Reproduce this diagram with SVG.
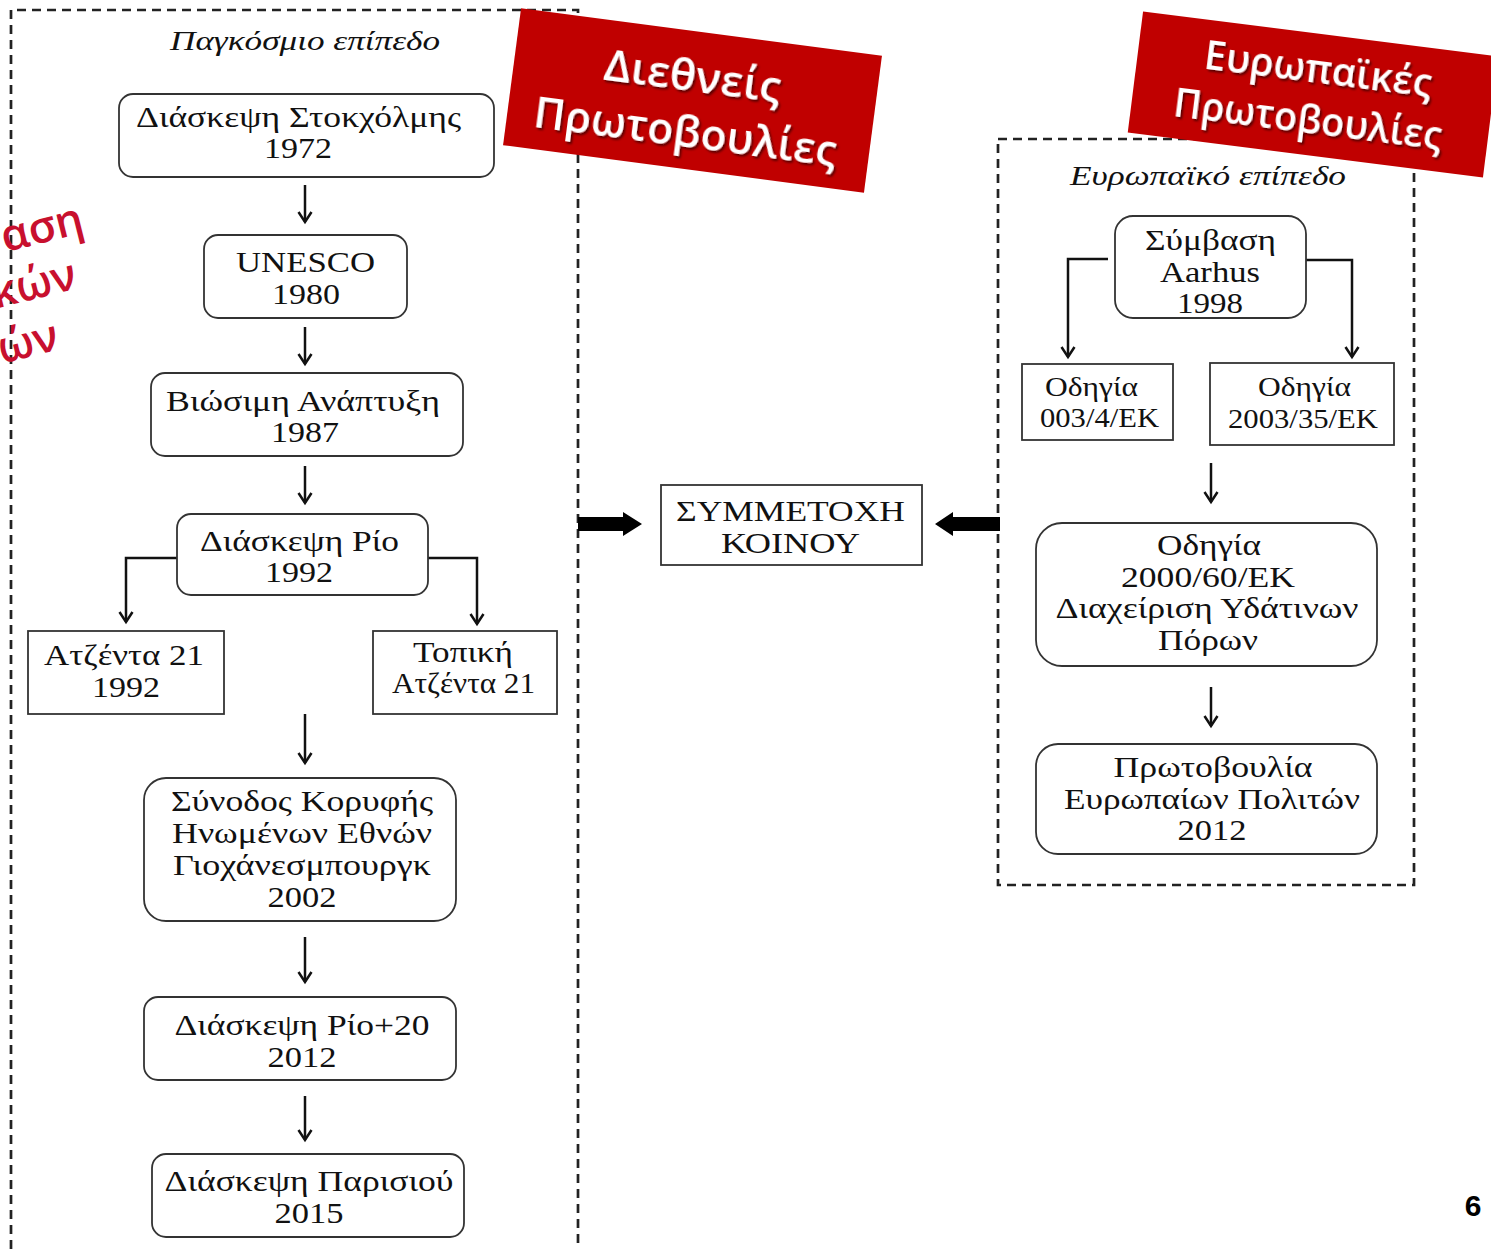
<svg xmlns="http://www.w3.org/2000/svg" width="1491" height="1249" viewBox="0 0 1491 1249">
<defs>
<style>
.bx{fill:#fff;stroke:#333;stroke-width:1.8}
.t{font-family:"Liberation Serif","Times New Roman",serif;font-size:29px;fill:#111;text-anchor:middle}
.ts{font-family:"Liberation Serif","Times New Roman",serif;font-size:27px;fill:#111;text-anchor:middle}
.ti{font-family:"Liberation Serif","Times New Roman",serif;font-size:27px;font-style:italic;fill:#111;text-anchor:middle}
.dash{fill:none;stroke:#222;stroke-width:2.7;stroke-dasharray:9 6}
.ar{fill:none;stroke:#111;stroke-width:2.5;marker-end:url(#v)}
.bn{fill:#C00000}
.bt{font-family:"Open Sans","Noto Sans",sans-serif;font-weight:600;fill:#fff;text-anchor:middle}
.rt{font-family:"Open Sans","Noto Sans",sans-serif;font-weight:600;font-size:44px;fill:#C8102E;text-anchor:end}
</style>
<marker id="v" markerUnits="userSpaceOnUse" markerWidth="16" markerHeight="16" viewBox="0 0 16 16" refX="13" refY="8" orient="auto">
<path d="M3,1.5 L13,8 L3,14.5" fill="none" stroke="#111" stroke-width="2.5"/>
</marker>
<filter id="sh" x="-10%" y="-10%" width="120%" height="130%">
<feDropShadow dx="2" dy="2" stdDeviation="1.2" flood-color="#000" flood-opacity="0.55"/>
</filter>
</defs>
<rect width="1491" height="1249" fill="#fff"/>

<g id="frames">
<path class="dash" d="M11,1249 V10 H578 V1249"/>
<rect class="dash" x="998" y="139" width="416" height="746"/>
</g>

<g id="titles">
<text class="ti" x="305" y="50" textLength="270" lengthAdjust="spacingAndGlyphs">Παγκόσμιο επίπεδο</text>
<text class="ti" x="1208" y="185" textLength="276" lengthAdjust="spacingAndGlyphs">Ευρωπαϊκό επίπεδο</text>
</g>

<g id="connectors">
<path class="ar" d="M305,185 V222"/>
<path class="ar" d="M305,327 V364"/>
<path class="ar" d="M305,466 V503"/>
<path class="ar" d="M177,558 H126 V622"/>
<path class="ar" d="M428,558 H477 V624"/>
<path class="ar" d="M305,714 V763"/>
<path class="ar" d="M305,937 V982"/>
<path class="ar" d="M305,1096 V1140"/>
<path class="ar" d="M1108,259 H1068 V357"/>
<path class="ar" d="M1306,260 H1352 V357"/>
<path class="ar" d="M1211,463 V502"/>
<path class="ar" d="M1211,687 V726"/>
<polygon fill="#000" points="578,517 623,517 623,512 642,524 623,536 623,531 578,531"/>
<polygon fill="#000" points="1000,517 953,517 953,512 935,524 953,536 953,531 1000,531"/>
</g>

<g id="n1"><rect class="bx" x="119" y="94" width="375" height="83" rx="14"/>
<text class="t" x="298.5" y="127" textLength="325" lengthAdjust="spacingAndGlyphs">Διάσκεψη Στοκχόλμης</text>
<text class="t" x="298" y="158" textLength="68" lengthAdjust="spacingAndGlyphs">1972</text></g>

<g id="n2"><rect class="bx" x="204" y="235" width="203" height="83" rx="14"/>
<text class="t" x="305.5" y="272" textLength="139" lengthAdjust="spacingAndGlyphs">UNESCO</text>
<text class="t" x="306" y="304" textLength="68" lengthAdjust="spacingAndGlyphs">1980</text></g>

<g id="n3"><rect class="bx" x="151" y="373" width="312" height="83" rx="14"/>
<text class="t" x="303" y="411" textLength="274" lengthAdjust="spacingAndGlyphs">Βιώσιμη Ανάπτυξη</text>
<text class="t" x="305" y="442" textLength="68" lengthAdjust="spacingAndGlyphs">1987</text></g>

<g id="n4"><rect class="bx" x="177" y="514" width="251" height="81" rx="14"/>
<text class="t" x="299.5" y="551" textLength="199" lengthAdjust="spacingAndGlyphs">Διάσκεψη Ρίο</text>
<text class="t" x="299" y="582" textLength="68" lengthAdjust="spacingAndGlyphs">1992</text></g>

<g id="n5"><rect class="bx" x="28" y="631" width="196" height="83"/>
<text class="t" x="124" y="665" textLength="160" lengthAdjust="spacingAndGlyphs">Ατζέντα 21</text>
<text class="t" x="126" y="697" textLength="68" lengthAdjust="spacingAndGlyphs">1992</text></g>

<g id="n6"><rect class="bx" x="373" y="631" width="184" height="83"/>
<text class="t" x="463" y="662" textLength="100" lengthAdjust="spacingAndGlyphs">Τοπική</text>
<text class="t" x="463.5" y="693" textLength="143" lengthAdjust="spacingAndGlyphs">Ατζέντα 21</text></g>

<g id="n7"><rect class="bx" x="144" y="778" width="312" height="143" rx="22"/>
<text class="t" x="302" y="811" textLength="262" lengthAdjust="spacingAndGlyphs">Σύνοδος Κορυφής</text>
<text class="t" x="302" y="843" textLength="260" lengthAdjust="spacingAndGlyphs">Ηνωμένων Εθνών</text>
<text class="t" x="302" y="875" textLength="258" lengthAdjust="spacingAndGlyphs">Γιοχάνεσμπουργκ</text>
<text class="t" x="302" y="907" textLength="69" lengthAdjust="spacingAndGlyphs">2002</text></g>

<g id="n8"><rect class="bx" x="144" y="997" width="312" height="83" rx="14"/>
<text class="t" x="302" y="1035" textLength="255" lengthAdjust="spacingAndGlyphs">Διάσκεψη Ρίο+20</text>
<text class="t" x="302" y="1067" textLength="69" lengthAdjust="spacingAndGlyphs">2012</text></g>

<g id="n9"><rect class="bx" x="152" y="1154" width="312" height="83" rx="14"/>
<text class="t" x="309" y="1191" textLength="289" lengthAdjust="spacingAndGlyphs">Διάσκεψη Παρισιού</text>
<text class="t" x="309" y="1223" textLength="69" lengthAdjust="spacingAndGlyphs">2015</text></g>

<g id="center"><rect class="bx" x="661" y="485" width="261" height="80"/>
<text class="t" x="790.5" y="521" textLength="229" lengthAdjust="spacingAndGlyphs">ΣΥΜΜΕΤΟΧΗ</text>
<text class="t" x="790.5" y="553" textLength="139" lengthAdjust="spacingAndGlyphs">ΚΟΙΝΟΥ</text></g>

<g id="e1"><rect class="bx" x="1115" y="216" width="191" height="102" rx="18"/>
<text class="t" x="1210.5" y="250" textLength="131" lengthAdjust="spacingAndGlyphs">Σύμβαση</text>
<text class="t" x="1210" y="282" textLength="100" lengthAdjust="spacingAndGlyphs">Aarhus</text>
<text class="t" x="1210" y="313" textLength="66" lengthAdjust="spacingAndGlyphs">1998</text></g>

<g id="e2"><rect class="bx" x="1022" y="364" width="151" height="76"/>
<text class="ts" x="1091.5" y="396" textLength="93" lengthAdjust="spacingAndGlyphs">Οδηγία</text>
<text class="ts" x="1099.5" y="427" textLength="119" lengthAdjust="spacingAndGlyphs">003/4/ΕΚ</text></g>

<g id="e3"><rect class="bx" x="1210" y="363" width="184" height="82"/>
<text class="ts" x="1304.5" y="396" textLength="93" lengthAdjust="spacingAndGlyphs">Οδηγία</text>
<text class="ts" x="1303" y="428" textLength="150" lengthAdjust="spacingAndGlyphs">2003/35/ΕΚ</text></g>

<g id="e4"><rect class="bx" x="1036" y="523" width="341" height="143" rx="26"/>
<text class="t" x="1209" y="555" textLength="104" lengthAdjust="spacingAndGlyphs">Οδηγία</text>
<text class="t" x="1208" y="587" textLength="174" lengthAdjust="spacingAndGlyphs">2000/60/ΕΚ</text>
<text class="t" x="1207" y="618" textLength="303" lengthAdjust="spacingAndGlyphs">Διαχείριση Υδάτινων</text>
<text class="t" x="1208" y="650" textLength="100" lengthAdjust="spacingAndGlyphs">Πόρων</text></g>

<g id="e5"><rect class="bx" x="1036" y="744" width="341" height="110" rx="22"/>
<text class="t" x="1213" y="777" textLength="199" lengthAdjust="spacingAndGlyphs">Πρωτοβουλία</text>
<text class="t" x="1212" y="809" textLength="296" lengthAdjust="spacingAndGlyphs">Ευρωπαίων Πολιτών</text>
<text class="t" x="1212" y="840" textLength="69" lengthAdjust="spacingAndGlyphs">2012</text></g>

<g id="banner1" transform="translate(692.5,100.5) rotate(7.5)">
<rect class="bn" x="-182" y="-69" width="364" height="138"/>
<text class="bt" x="-3" y="-9" font-size="44" filter="url(#sh)" textLength="178" lengthAdjust="spacingAndGlyphs">Διεθνείς</text>
<text class="bt" x="-3" y="47" font-size="44" filter="url(#sh)" textLength="305" lengthAdjust="spacingAndGlyphs">Πρωτοβουλίες</text>
</g>

<g id="banner2" transform="translate(1313,94.5) rotate(7.2)">
<rect class="bn" x="-179" y="-61" width="358" height="122"/>
<text class="bt" x="2" y="-12" font-size="40" filter="url(#sh)" textLength="229" lengthAdjust="spacingAndGlyphs">Ευρωπαϊκές</text>
<text class="bt" x="-2" y="39" font-size="40" filter="url(#sh)" textLength="270" lengthAdjust="spacingAndGlyphs">Πρωτοβουλίες</text>
</g>

<g id="sidetext">
<text class="rt" transform="translate(86,232) rotate(-14)">αση</text>
<text class="rt" transform="translate(79,288) rotate(-14)">κών</text>
<text class="rt" transform="translate(61,349) rotate(-14)">ών</text>
</g>

<text x="1473" y="1216" font-family="'Liberation Sans',Arial,sans-serif" font-weight="bold" font-size="30" text-anchor="middle" fill="#000">6</text>
</svg>
